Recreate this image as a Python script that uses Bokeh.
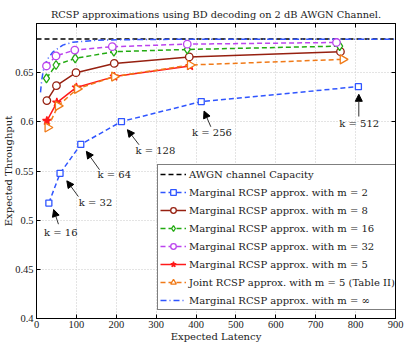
import numpy as np
from bokeh.plotting import figure
from bokeh.models import (Range1d, LinearAxis, FixedTicker, Legend, LegendItem,
                          Arrow, NormalHead, Label)
from bokeh.embed import file_html
from bokeh.resources import INLINE

# ---- data ----
capacity = 0.6842
cap_latency = [0, 900]

lat_m2 = [31, 59, 111, 213, 413, 807]
thr_m2 = [0.5174, 0.5476, 0.577, 0.6003, 0.6206, 0.6358]
k_labels = ["k = 16", "k = 32", "k = 64", "k = 128", "k = 256", "k = 512"]

lat_m8 = [26, 50, 99, 195, 383, 762]
thr_m8 = [0.6216, 0.6368, 0.650, 0.6594, 0.666, 0.6713]

lat_m16 = [25, 49, 97, 194, 378, 760]
thr_m16 = [0.6442, 0.6578, 0.6645, 0.6713, 0.6736, 0.677]

lat_m32 = [25, 49, 96, 190, 378, 752]
thr_m32 = [0.6568, 0.667, 0.673, 0.6764, 0.679, 0.6807]

lat_m5 = [26, 51, 100, 195, 385]
thr_m5 = [0.601, 0.6196, 0.635, 0.646, 0.6568]

lat_joint = [28, 54, 102, 195, 385, 768]
thr_joint = [0.5942, 0.6162, 0.6335, 0.646, 0.6578, 0.6635]

lat_inf = [10, 13, 17, 22, 29, 41, 66, 91, 150, 250, 400, 900]
thr_inf = [0.630, 0.642, 0.652, 0.659, 0.6645, 0.671, 0.678, 0.681, 0.683, 0.6837, 0.684, 0.684]

x_ticks = [0, 100, 200, 300, 400, 500, 600, 700, 800, 900]
y_ticks = [0.4, 0.45, 0.5, 0.55, 0.6, 0.65]

FONT = "DejaVu Serif"
TFONT = "Liberation Serif"
TXT = "#1a1a1a"
C_BLUE = "#2f55ff"
C_DRED = "#962010"
C_GREEN = "#22aa11"
C_PURP = "#bb44ee"
C_RED = "#ff1a1a"
C_ORNG = "#f07a18"

p = figure(width=407, height=349, output_backend="svg", toolbar_location=None,
           x_range=Range1d(0, 900), y_range=Range1d(0.4, 0.7),
           min_border_left=0, min_border_right=12, min_border_top=23, min_border_bottom=31,
           x_axis_label="Expected Latency", y_axis_label="Expected Throughput")
p.background_fill_color = "white"
p.border_fill_color = "white"
p.outline_line_color = "black"
p.outline_line_width = 1

p.title.text = "RCSP approximations using BD decoding on 2 dB AWGN Channel."
p.title.align = "center"
p.title.text_font = FONT
p.title.text_font_size = "9.8px"
p.title.text_font_style = "normal"
p.title.text_color = TXT
p.title.standoff = 8
p.title.offset = 3

for ax in p.xaxis + p.yaxis:
    ax.major_label_text_font = TFONT
    ax.major_label_text_font_size = "10.5px"
    ax.axis_label_text_font = FONT
    ax.axis_label_text_font_size = "10px"
    ax.axis_label_text_font_style = "normal"
    ax.axis_label_text_color = TXT
    ax.major_label_text_color = TXT
    ax.major_tick_in = 4
    ax.major_tick_out = 0
    ax.minor_tick_line_color = None
    ax.axis_line_color = "black"
    ax.major_tick_line_color = "black"
p.xaxis.ticker = FixedTicker(ticks=x_ticks)
p.yaxis.ticker = FixedTicker(ticks=y_ticks)
p.xaxis.major_label_standoff = 2
p.yaxis.major_label_standoff = 3
p.xaxis.axis_label_standoff = 0
p.yaxis.axis_label_standoff = -2

for loc, tk in (("above", x_ticks), ("right", y_ticks)):
    ax = LinearAxis(ticker=FixedTicker(ticks=tk))
    ax.major_label_text_font_size = "0px"
    ax.major_label_text_color = None
    ax.major_label_standoff = 0
    ax.major_tick_in = 4
    ax.major_tick_out = 0
    ax.minor_tick_line_color = None
    p.add_layout(ax, loc)

p.xgrid.ticker = FixedTicker(ticks=x_ticks)
p.ygrid.ticker = FixedTicker(ticks=y_ticks)
p.grid.grid_line_color = "#c8c8c8"
p.grid.grid_line_dash = "1 2"
p.grid.grid_line_width = 1

LW = 1.5
items = []

r = p.line(cap_latency, [capacity, capacity], line_color="black", line_dash="5 3", line_width=LW)
items.append(LegendItem(label="AWGN channel Capacity", renderers=[r]))

r1 = p.line(lat_inf, thr_inf, line_color=C_BLUE, line_dash="6 3 1 3", line_width=LW)

def series(xs, ys, color, dash, marker, size, label, fill="white", angle=0.0):
    l = p.line(xs, ys, line_color=color, line_dash=dash, line_width=LW)
    s = p.scatter(xs, ys, marker=marker, size=size, line_color=color, fill_color=fill,
                  line_width=1.3, angle=angle)
    items.append(LegendItem(label=label, renderers=[l, s]))

series(lat_m2, thr_m2, C_BLUE, "5 3", "square", 6, "Marginal RCSP approx. with m = 2")
series(lat_m8, thr_m8, C_DRED, "solid", "circle", 7.5, "Marginal RCSP approx. with m = 8")
series(lat_m16, thr_m16, C_GREEN, "5 3", "diamond", 9, "Marginal RCSP approx. with m = 16")
series(lat_m32, thr_m32, C_PURP, "5 3", "circle", 7.5, "Marginal RCSP approx. with m = 32")
series(lat_m5, thr_m5, C_RED, "solid", "star", 9, "Marginal RCSP approx. with m = 5", fill=C_RED)
series(lat_joint, thr_joint, C_ORNG, "5 3", "triangle", 9,
       "Joint RCSP approx. with m = 5 (Table II)", angle=-np.pi / 2)
items.append(LegendItem(label="Marginal RCSP approx. with m = \u221e", renderers=[r1]))

# annotations: arrow tip offset from point, arrow tail and label offset
tip_dx = [12, 17, 14, 15, 7, 1]
tip_dy = [-0.0066, -0.0076, -0.007, -0.0083, -0.0096, -0.0078]
tail_dx = [24, 46, 47, 44, 24, 1]
tail_dy = [-0.0215, -0.0236, -0.0257, -0.0236, -0.0256, -0.0304]
lab_dx = [30, 89, 84, 85, 27, 2]
lab_dy = [-0.0304, -0.0296, -0.031, -0.0297, -0.0316, -0.0372]
for i, kl in enumerate(k_labels):
    x0, y0 = lat_m2[i], thr_m2[i]
    p.add_layout(Arrow(end=NormalHead(size=7, fill_color="black", line_color="black"),
                       x_start=x0 + tail_dx[i], y_start=y0 + tail_dy[i],
                       x_end=x0 + tip_dx[i], y_end=y0 + tip_dy[i],
                       line_color="#333333", line_width=1))
    p.add_layout(Label(x=x0 + lab_dx[i], y=y0 + lab_dy[i], text=kl, text_font=FONT,
                       text_font_size="10px", text_align="center", text_baseline="middle",
                       text_color=TXT))

legend = Legend(items=items, location=(121, 8))
legend.label_text_font = FONT
legend.label_text_font_size = "10px"
legend.label_text_color = TXT
legend.glyph_width = 26
legend.glyph_height = 14
legend.label_height = 14
legend.spacing = 4
legend.padding = 2
legend.margin = 0
legend.label_standoff = 3
legend.border_line_color = "black"
legend.border_line_width = 1
legend.background_fill_alpha = 1
p.add_layout(legend, "center")

open("out.html", "w").write(file_html(p, INLINE))
